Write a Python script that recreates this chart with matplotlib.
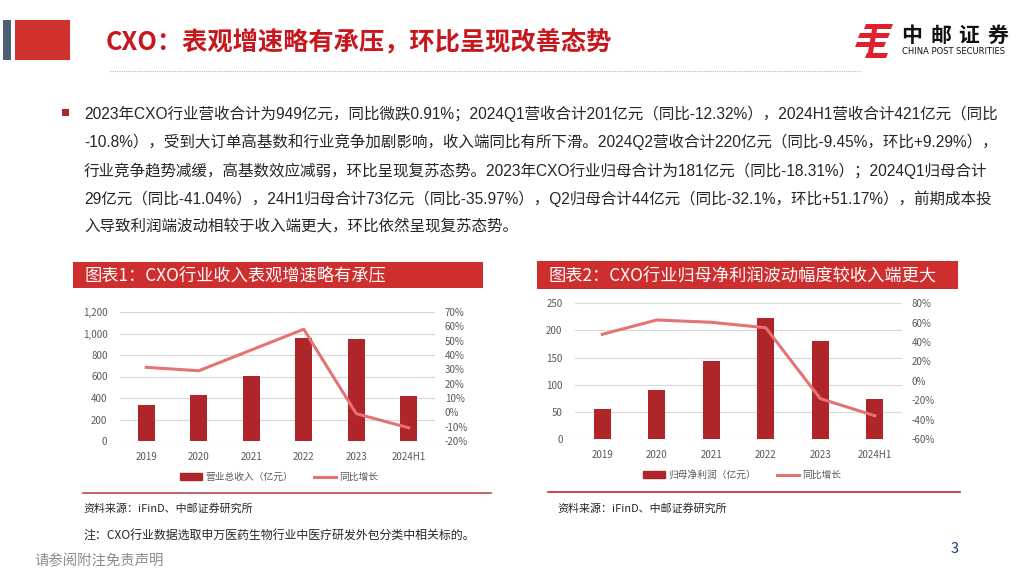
import matplotlib.pyplot as plt
from matplotlib.patches import Rectangle, Polygon
from matplotlib.lines import Line2D
import matplotlib.ticker as mticker

plt.rcParams['font.family'] = ['Noto Sans CJK SC', 'DejaVu Sans']
ARIAL_CJK = ['Liberation Sans', 'Noto Sans CJK SC']

# DATA
years = ['2019', '2020', '2021', '2022', '2023', '2024H1']
revenue = [333, 428, 607, 958, 949, 421]            # 营业总收入（亿元）
revenue_yoy = [31.4, 29.0, 43.5, 58.0, -0.91, -10.8]  # 同比增长 %
profit = [55, 90, 143, 222, 181, 73]                # 归母净利润（亿元）
profit_yoy = [48.0, 62.8, 60.4, 54.8, -18.31, -35.97]  # 同比增长 %

W, H = 1024, 576
BAR_C = '#B0252A'
LINE_C = '#E57373'
HEAD_C = '#CF2E2E'
TICK_C = '#595959'
GRID_C = '#D9D9D9'

fig = plt.figure(figsize=(W / 100, H / 100), dpi=100)
fig.patch.set_facecolor('white')


def px(x, y):
    """pixel coords (from top-left) -> figure fraction"""
    return x / W, 1 - y / H


def box(x0, y0, x1, y1, color):
    fig.patches.append(Rectangle(px(x0, y1), (x1 - x0) / W, (y1 - y0) / H,
                                 transform=fig.transFigure, color=color, lw=0))


def hline(x0, x1, y, **kw):
    fig.add_artist(Line2D([x0 / W, x1 / W], [1 - y / H, 1 - y / H],
                          transform=fig.transFigure, **kw))


# HEADER
box(3, 20, 11, 60, '#4B6072')
box(15, 20, 70, 60, '#D0312D')
fig.text(*px(106, 43), 'CXO：表观增速略有承压，环比呈现改善态势', fontsize=18.2,
         fontweight='bold', color='#C8161D', va='center', ha='left')
hline(110, 860, 71, color='#BBBBBB', lw=0.8, ls=(0, (1, 1)))

# logo
icon = [
    [(866, 24), (893, 24), (891, 29), (864, 29)],
    [(860, 33), (890, 33), (888, 38), (858, 38)],
    [(857, 42), (886, 42), (884, 47), (855, 47)],
    [(873, 24), (878, 24), (872, 58), (867, 58)],
    [(867, 53), (888, 53), (886, 58), (865, 58)],
]
for pts in icon:
    fig.patches.append(Polygon([px(a, b) for a, b in pts], closed=True,
                               transform=fig.transFigure, color='#E0202A', lw=0))
for i, ch in enumerate('中邮证券'):
    fig.text(*px(912 + i * 28.5, 35), ch, fontsize=15, fontweight='bold',
             color='#111111', va='center', ha='center')
fig.text(*px(954, 52), 'CHINA POST SECURITIES', fontsize=6, color='#111111',
         va='center', ha='center', family='DejaVu Sans')

# BODY TEXT
box(62, 109, 69, 116, '#B0252A')
body = [
    '2023年CXO行业营收合计为949亿元，同比微跌0.91%；2024Q1营收合计201亿元（同比-12.32%），2024H1营收合计421亿元（同比',
    '-10.8%），受到大订单高基数和行业竞争加剧影响，收入端同比有所下滑。2024Q2营收合计220亿元（同比-9.45%，环比+9.29%），',
    '行业竞争趋势减缓，高基数效应减弱，环比呈现复苏态势。2023年CXO行业归母合计为181亿元（同比-18.31%）；2024Q1归母合计',
    '29亿元（同比-41.04%），24H1归母合计73亿元（同比-35.97%），Q2归母合计44亿元（同比-32.1%，环比+51.17%），前期成本投',
    '入导致利润端波动相较于收入端更大，环比依然呈现复苏态势。',
]
for i, line in enumerate(body):
    fig.text(*px(84, 113.5 + i * 28.4), line, fontsize=11.2, color='#262626',
             va='center', ha='left', family=ARIAL_CJK)

# CHART HEADERS
box(73, 262, 483, 288, HEAD_C)
fig.text(*px(84, 275), '图表1：CXO行业收入表观增速略有承压', fontsize=12.4,
         color='white', va='center', ha='left')
box(537, 261, 958, 289, HEAD_C)
fig.text(*px(549, 275), '图表2：CXO行业归母净利润波动幅度较收入端更大', fontsize=12.4,
         color='white', va='center', ha='left')


def combo(rect, bars, yoy, ylim, ystep, y2lim, y2step, bar_label, leg_xy):
    ax = fig.add_axes(rect)
    x = range(len(years))
    ax.bar(x, bars, width=0.32, color=BAR_C, zorder=3)
    ax.set_xlim(-0.5, len(years) - 0.5)
    ax.set_ylim(*ylim)
    ax.yaxis.set_major_locator(mticker.MultipleLocator(ystep))
    ax.yaxis.set_major_formatter(mticker.StrMethodFormatter('{x:,.0f}'))
    ax.grid(axis='y', color=GRID_C, lw=0.8, zorder=0)
    ax.set_xticks(list(x))
    ax.set_xticklabels(years)
    for s in ax.spines.values():
        s.set_visible(False)
    ax.tick_params(length=0, labelsize=7, colors=TICK_C)
    ax.tick_params(axis='y', pad=9)
    ax.tick_params(axis='x', pad=8)

    ax2 = ax.twinx()
    ax2.plot(list(x), yoy, color=LINE_C, lw=2.2, zorder=4)
    ax2.set_ylim(*y2lim)
    ax2.yaxis.set_major_locator(mticker.MultipleLocator(y2step))
    ax2.yaxis.set_major_formatter(mticker.FuncFormatter(lambda v, p: f'{v:.0f}%'))
    for s in ax2.spines.values():
        s.set_visible(False)
    ax2.tick_params(length=0, labelsize=7, colors=TICK_C, pad=7)

    handles = [Rectangle((0, 0), 1, 1, color=BAR_C),
               Line2D([0], [0], color=LINE_C, lw=2.2)]
    fig.legend(handles, [bar_label, '同比增长'], loc='center',
               bbox_to_anchor=px(*leg_xy), ncol=2, frameon=False,
               fontsize=7, handlelength=2.3, handleheight=0.6,
               columnspacing=2.2, handletextpad=0.3, labelcolor=TICK_C)
    return ax


combo([120 / W, 1 - 441 / H, 315 / W, 129 / H], revenue, revenue_yoy,
      (0, 1200), 200, (-20, 70), 10, '营业总收入（亿元）', (279, 477))
combo([575 / W, 1 - 439 / H, 327 / W, 135.7 / H], profit, profit_yoy,
      (0, 250), 50, (-60, 80), 20, '归母净利润（亿元）', (742, 475))

# FOOTER
hline(83, 491, 493, color='#B84A4A', lw=1.2)
hline(548, 960, 492, color='#C0262C', lw=1.2)
fig.text(*px(83, 508), '资料来源：iFinD、中邮证券研究所', fontsize=7.9, color='#262626',
         va='center', ha='left')
fig.text(*px(557, 508), '资料来源：iFinD、中邮证券研究所', fontsize=7.9, color='#262626',
         va='center', ha='left')
fig.text(*px(83, 535), '注：CXO行业数据选取申万医药生物行业中医疗研发外包分类中相关标的。',
         fontsize=8.6, color='#262626', va='center', ha='left')
fig.text(*px(34, 561), '请参阅附注免责声明', fontsize=10.4, color='#8C8C8C',
         va='center', ha='left')
fig.text(*px(955, 549), '3', fontsize=10.5, color='#1F3A7A', va='center', ha='center')

fig.savefig('out.png', dpi=100, facecolor='white')
